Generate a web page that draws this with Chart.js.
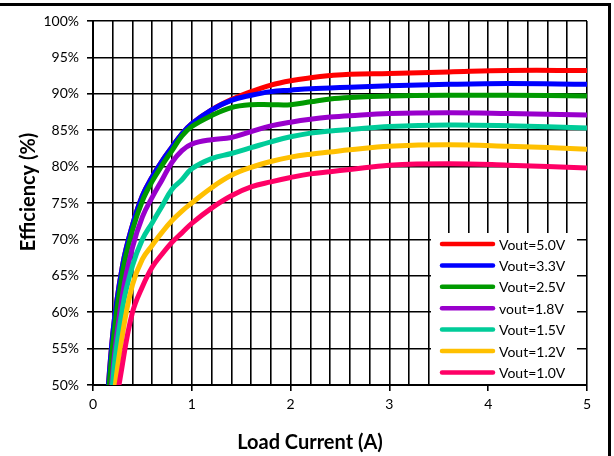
<!DOCTYPE html>
<html>
<head>
<meta charset="utf-8">
<script src="https://cdn.jsdelivr.net/npm/chart.js@4.4.1/dist/chart.umd.min.js"></script>
<style>
  html, body { margin: 0; padding: 0; background: #fff; }
  #wrap { position: relative; width: 614px; height: 456px; }
</style>
</head>
<body>
<div id="wrap"><canvas id="effChart"></canvas></div>
<script>
// load current (A) shared by every curve
const loadCurrent = [0.1, 0.2, 0.3, 0.4, 0.5, 0.6, 0.7, 0.8, 0.9, 1.0, 1.2, 1.4, 1.6, 1.8, 2.0, 2.2, 2.4, 2.6, 3.0, 3.6, 4.2, 5.0];

// efficiency (%) per output voltage
const eff50 = [39, 57, 66.5, 72, 76, 78.6, 80.8, 82.7, 84.5, 85.9, 87.8, 89.2, 90.3, 91.2, 91.8, 92.2, 92.5, 92.7, 92.8, 93.0, 93.2, 93.2];
const eff33 = [39, 57, 66.5, 72, 76, 78.6, 80.8, 82.7, 84.5, 85.9, 87.8, 89.1, 89.8, 90.3, 90.5, 90.7, 90.8, 90.9, 91.1, 91.3, 91.4, 91.3];
const eff25 = [38, 55.6, 65.6, 71.3, 75.3, 78.0, 80.2, 82.2, 84.2, 85.5, 87.0, 88.1, 88.5, 88.5, 88.5, 88.9, 89.3, 89.5, 89.7, 89.8, 89.8, 89.7];
const eff18 = [32, 51.7, 62.5, 68.9, 73.1, 75.8, 78.2, 80.6, 82.2, 83.1, 83.7, 84.0, 84.8, 85.6, 86.1, 86.5, 86.8, 87.0, 87.3, 87.4, 87.3, 87.1];
const eff15 = [28, 50.5, 60.7, 66.4, 70.0, 72.3, 74.6, 76.9, 78.2, 79.7, 81.1, 81.8, 82.6, 83.4, 84.1, 84.6, 84.9, 85.1, 85.5, 85.7, 85.6, 85.3];
const eff12 = [20, 46.3, 57.1, 63.8, 67.3, 69.2, 71.0, 72.6, 73.9, 75.0, 77.1, 78.8, 79.9, 80.7, 81.3, 81.7, 82.0, 82.3, 82.8, 83.0, 82.8, 82.4];
const eff10 = [10, 43, 53, 60, 63.5, 66.2, 68.0, 69.6, 70.9, 72.2, 74.3, 76.0, 77.2, 77.9, 78.5, 79.0, 79.3, 79.6, 80.2, 80.4, 80.2, 79.8];

const seriesNames = ["Vout=5.0V", "Vout=3.3V", "Vout=2.5V", "vout=1.8V", "Vout=1.5V", "Vout=1.2V", "Vout=1.0V"];
const seriesValues = [eff50, eff33, eff25, eff18, eff15, eff12, eff10];
const seriesColors = ["#ff0000", "#0000ff", "#009a00", "#9900cc", "#00cc99", "#ffc000", "#ff0066"];

const isWhole = v => Math.abs(v - Math.round(v)) < 1e-6;

// outer frame + both axis titles (centred on the whole picture like the original)
const framePlugin = {
  id: "frame",
  afterDraw(chart) {
    const ctx = chart.ctx;
    ctx.save();
    ctx.fillStyle = "#000";
    ctx.fillRect(0, 3, 611, 3);
    ctx.fillRect(608, 3, 3, 453);
    ctx.font = "bold 20px Lato";
    ctx.textAlign = "center";
    ctx.textBaseline = "middle";
    ctx.fillText("Load Current (A)", 310, 443);
    ctx.translate(29, 192);
    ctx.rotate(-Math.PI / 2);
    ctx.fillText("Efficiency (%)", 0, 0);
    ctx.restore();
  }
};

// legend sits inside the plot, bottom right, on a white box
const legendPlugin = {
  id: "boxLegend",
  afterDatasetsDraw(chart) {
    const { ctx, chartArea } = chart;
    const left = chartArea.right - 156;
    const right = chartArea.right - 10;
    const top = chartArea.bottom - 152;
    const bottom = chartArea.bottom - 1;
    ctx.save();
    ctx.fillStyle = "#fff";
    ctx.fillRect(left, top, right - left, bottom - top);
    ctx.lineCap = "round";
    ctx.lineWidth = 4.5;
    ctx.font = "14px Lato";
    ctx.textAlign = "left";
    ctx.textBaseline = "middle";
    seriesNames.forEach((name, i) => {
      const y = top + 11 + i * 21.4;
      ctx.strokeStyle = seriesColors[i];
      ctx.beginPath();
      ctx.moveTo(left + 11, y);
      ctx.lineTo(left + 62, y);
      ctx.stroke();
      ctx.fillStyle = "#000";
      ctx.fillText(name, left + 68, y + 1);
    });
    ctx.restore();
  }
};

const datasets = seriesNames.map((name, i) => ({
  label: name,
  data: loadCurrent.map((x, j) => ({ x: x, y: seriesValues[i][j] })),
  borderColor: seriesColors[i],
  borderWidth: 5,
  pointRadius: 0,
  fill: false,
  tension: 0.4,
  clip: 0,
  order: seriesNames.length - i
}));

const tickFont = { family: "Lato", size: 14 };

new Chart(document.getElementById("effChart"), {
  type: "line",
  data: { datasets: datasets },
  options: {
    responsive: true,
    maintainAspectRatio: false,
    animation: false,
    layout: { padding: { top: 21, right: 27, left: 0, bottom: 0 } },
    plugins: {
      legend: { display: false },
      tooltip: { enabled: false }
    },
    scales: {
      x: {
        type: "linear",
        min: 0,
        max: 5,
        ticks: {
          stepSize: 0.2,
          autoSkip: false,
          maxRotation: 0,
          color: "#000",
          font: tickFont,
          padding: 5,
          callback: v => isWhole(v) ? String(Math.round(v)) : ""
        },
        grid: {
          color: "#000",
          lineWidth: 1.6,
          tickLength: 6,
          tickWidth: 1.6,
          tickColor: c => isWhole(c.tick.value) ? "#000" : "rgba(0,0,0,0)"
        },
        border: { color: "#000", width: 2 },
        afterFit: s => { s.height = 71; }
      },
      y: {
        min: 50,
        max: 100,
        ticks: {
          stepSize: 5,
          color: "#000",
          font: tickFont,
          padding: 8,
          callback: v => v + "%"
        },
        grid: {
          color: "#000",
          lineWidth: 1.6,
          tickLength: 6,
          tickWidth: 1.6,
          tickColor: "#000"
        },
        border: { color: "#000", width: 2 },
        afterFit: s => { s.width = 93; }
      }
    }
  },
  plugins: [legendPlugin, framePlugin]
});
</script>
</body>
</html>
